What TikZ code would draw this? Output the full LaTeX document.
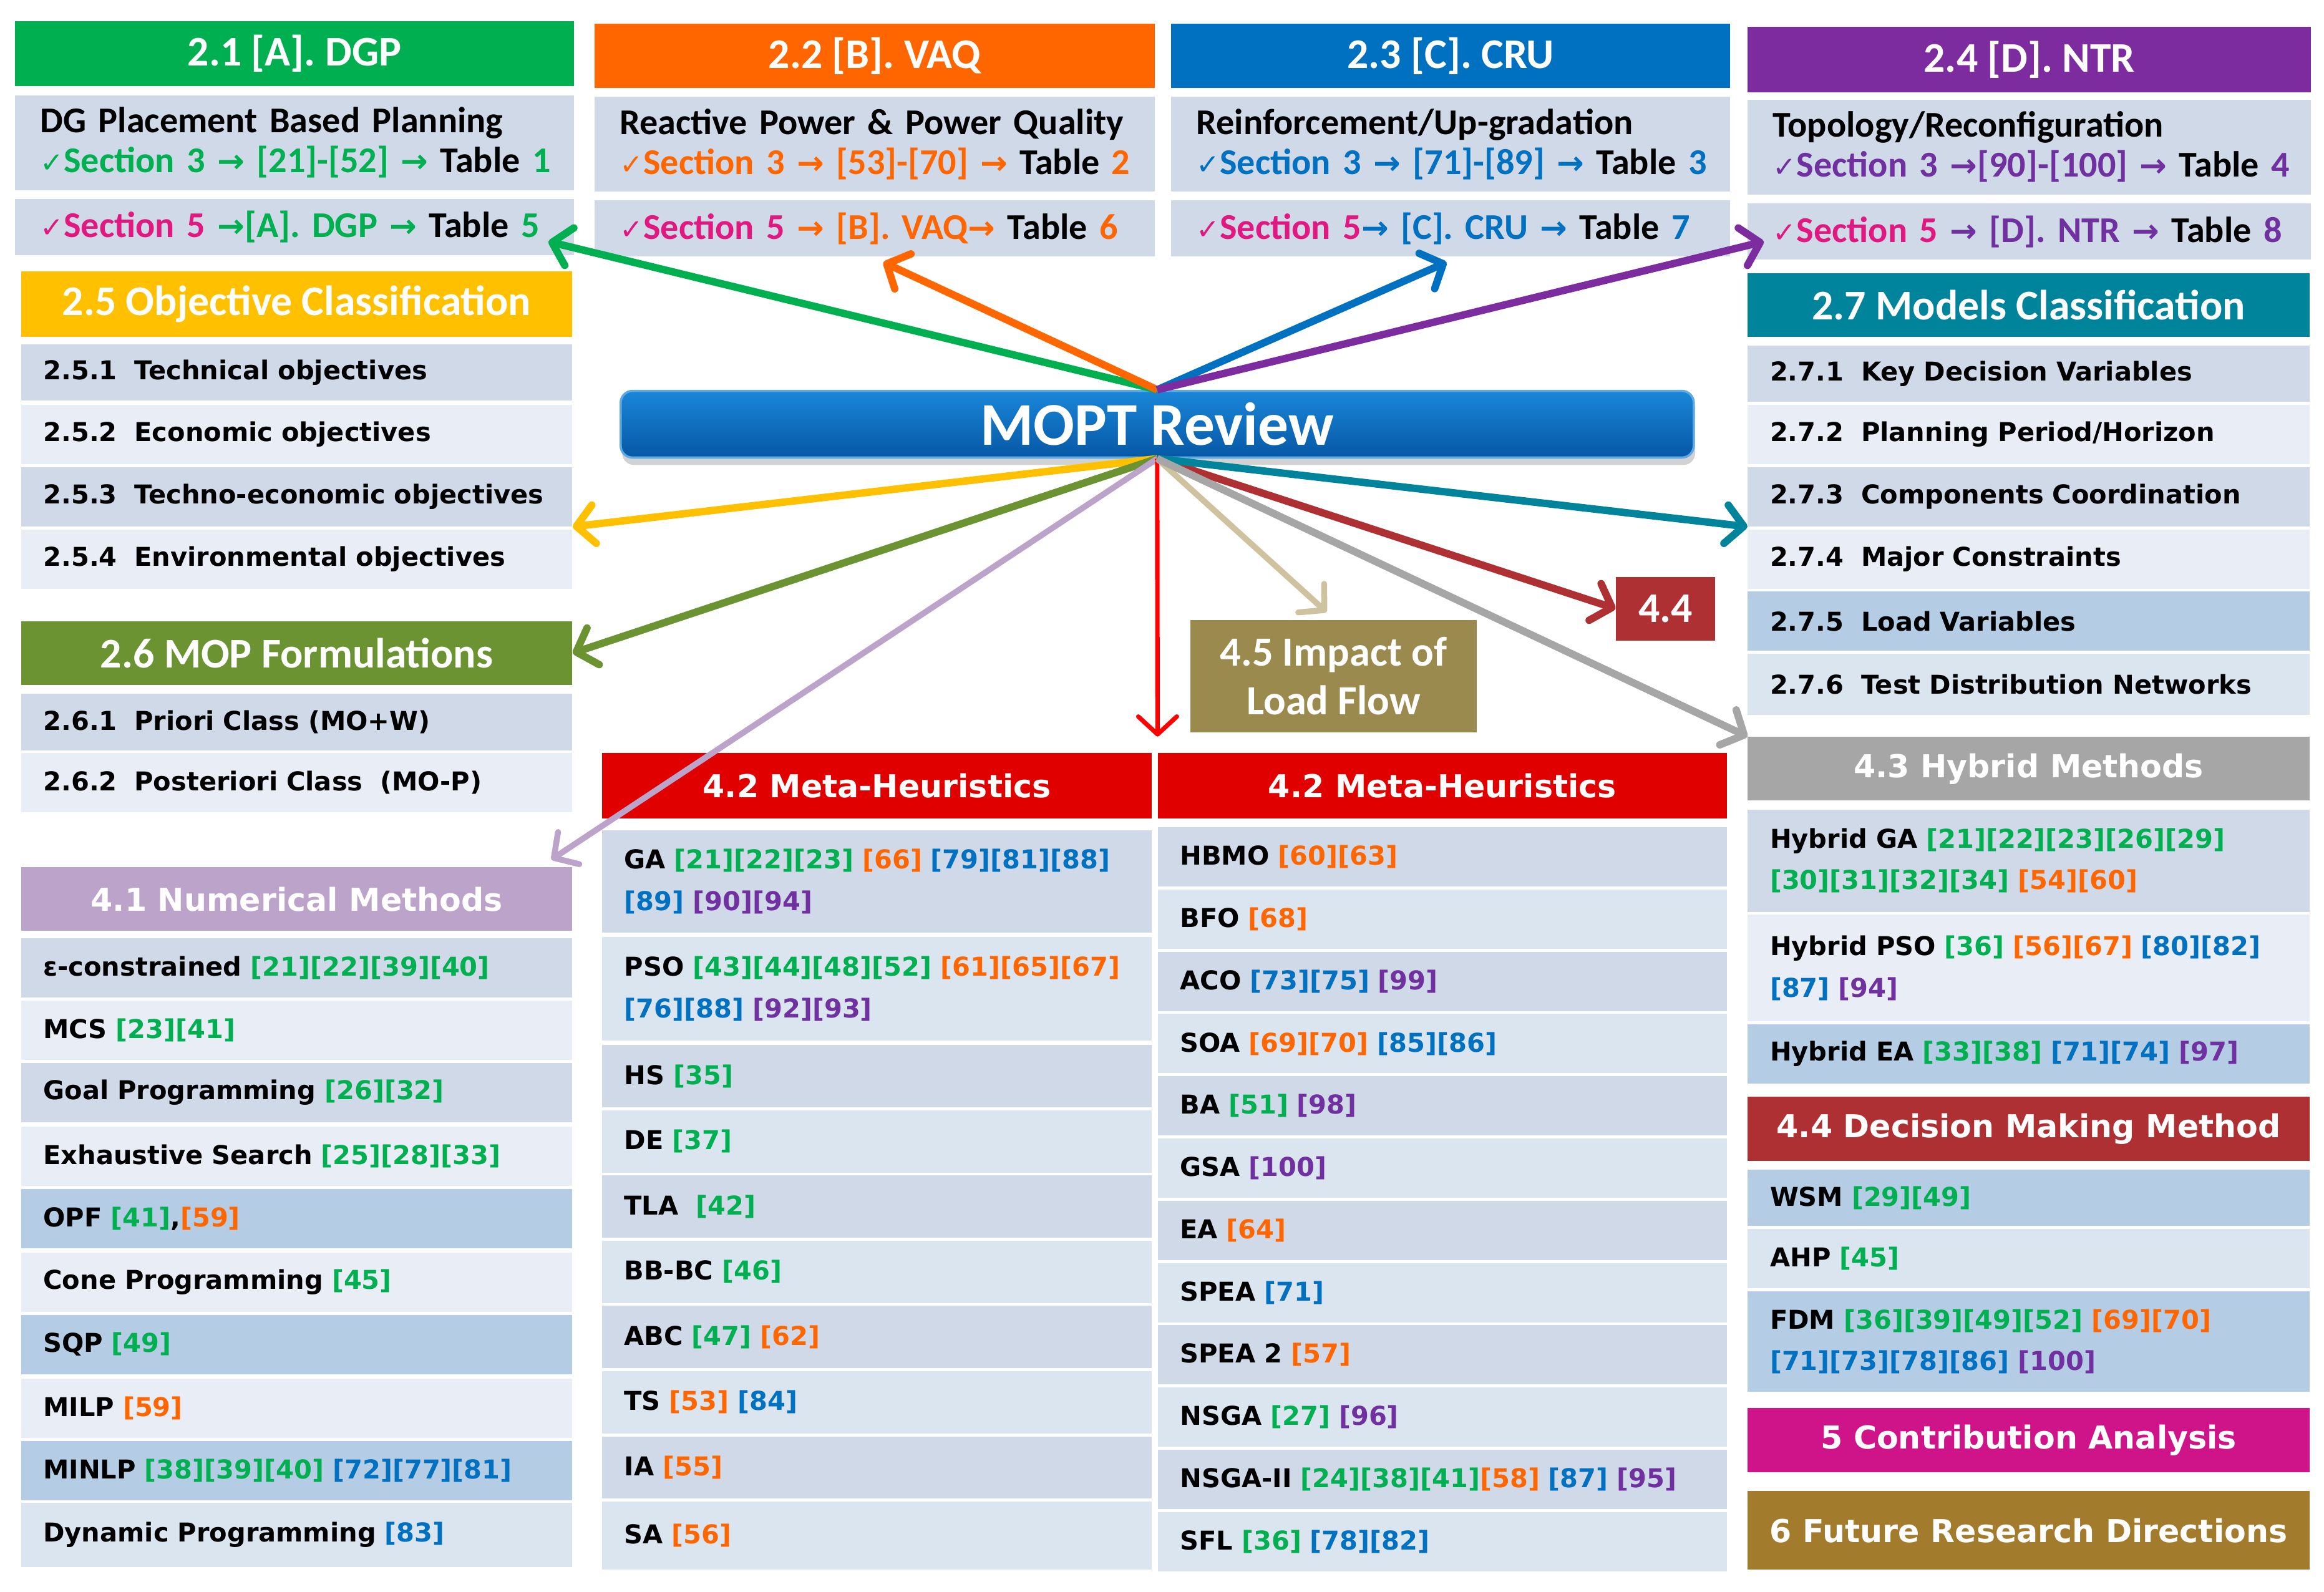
\documentclass[tikz,border=0pt]{standalone}
\usepackage{fontspec}
\setmainfont{Carlito}
\newfontfamily\vfont{DejaVu Sans}
\newfontfamily\symfont{DejaVu Sans}
\usetikzlibrary{arrows.meta,shadows}

\definecolor{dgpgreen}{HTML}{00B050}
\definecolor{vaqorange}{HTML}{FF6600}
\definecolor{crublue}{HTML}{0070C0}
\definecolor{ntrpurple}{HTML}{7030A0}
\definecolor{ntrhead}{HTML}{7D2CA0}
\definecolor{secmag}{HTML}{E0187F}
\definecolor{objyellow}{HTML}{FFC000}
\definecolor{mopgreen}{HTML}{6B9332}
\definecolor{modteal}{HTML}{00849C}
\definecolor{numlav}{HTML}{BCA3CA}
\definecolor{metared}{HTML}{E00000}
\definecolor{hybgray}{HTML}{A6A6A6}
\definecolor{decred}{HTML}{AE3033}
\definecolor{conmag}{HTML}{CF1489}
\definecolor{futgold}{HTML}{A27B2D}
\definecolor{impolive}{HTML}{9B8A4E}
\definecolor{tanline}{HTML}{CFC29E}
\definecolor{cdark}{HTML}{CFD9E8}
\definecolor{clight}{HTML}{E9EEF6}
\definecolor{cmid}{HTML}{DAE5F0}
\definecolor{csat}{HTML}{B4CCE4}
\definecolor{moptlight}{HTML}{1A86D8}
\definecolor{moptdark}{HTML}{0658A5}

\newcommand{\cgr}[1]{\textcolor{dgpgreen}{#1}}
\newcommand{\cor}[1]{\textcolor{vaqorange}{#1}}
\newcommand{\cbl}[1]{\textcolor{crublue}{#1}}
\newcommand{\cpu}[1]{\textcolor{ntrpurple}{#1}}
\newcommand{\cmg}[1]{\textcolor{secmag}{#1}}
\newcommand{\ck}{{\symfont\mdseries\fontsize{19}{19}\selectfont ✓}}
\newcommand{\rarr}{{\symfont\bfseries\fontsize{22}{22}\selectfont →}}

\tikzstyle{hdr}=[rectangle,anchor=north west,inner sep=0pt,text=white,font=\bfseries\fontsize{28.5}{30}\selectfont]
\tikzstyle{vhdr}=[hdr,font=\vfont\bfseries\fontsize{21.3}{23}\selectfont]
\tikzstyle{cell}=[rectangle,anchor=north west,inner xsep=15pt,inner ysep=0pt,align=left,font=\vfont\bfseries\fontsize{17.5}{28}\selectfont]
\tikzstyle{topcell}=[cell,inner xsep=17pt,font=\bfseries\fontsize{24.5}{27}\selectfont]
\tikzstyle{colA}=[cell,text width=342pt,minimum height=40pt]
\tikzstyle{colB}=[cell,text width=341pt,minimum height=42pt]
\tikzstyle{colC}=[cell,text width=354pt,minimum height=40pt]
\tikzstyle{colD}=[cell,text width=349pt,minimum height=40pt]
\tikzstyle{link}=[line width=5pt,-{Straight Barb[round,length=12pt,width=26pt]}]

\begin{document}
\begin{tikzpicture}[x=1pt,y=-1pt]
    \useasboundingbox (0,0) rectangle (1568,1074);
    \fill[white] (0,0) rectangle (1568,1074);

    % top row
    \node[hdr,fill=dgpgreen,minimum width=377pt,minimum height=44pt] (dgp) at (10,14) {2.1 [A]. DGP};
    \node[topcell,fill=cdark,text width=343pt,minimum height=64pt] (dgp1) at (10,64)
        {DG Placement Based Planning\\\mbox{\cgr{\ck Section 3 \rarr{} [21]-[52] \rarr{}} Table \cgr{1}}};
    \node[topcell,fill=cdark,text width=343pt,minimum height=38pt] (dgp2) at (10,134)
        {\mbox{\cmg{\ck Section 5} \cgr{\rarr{}[A]. DGP \rarr{}} Table \cgr{5}}};

    \node[hdr,fill=vaqorange,minimum width=378pt,minimum height=43pt] (vaq) at (401,16) {2.2 [B]. VAQ};
    \node[topcell,fill=cdark,text width=344pt,minimum height=64pt] (vaq1) at (401,65)
        {Reactive Power \& Power Quality\\\mbox{\cor{\ck Section 3 \rarr{} [53]-[70] \rarr{}} Table \cor{2}}};
    \node[topcell,fill=cdark,text width=344pt,minimum height=38pt] (vaq2) at (401,135)
        {\mbox{\cmg{\ck Section 5} \cor{\rarr{} [B]. VAQ\rarr{}} Table \cor{6}}};

    \node[hdr,fill=crublue,minimum width=377pt,minimum height=43pt] (cru) at (790,16) {2.3 [C]. CRU};
    \node[topcell,fill=cdark,text width=343pt,minimum height=64pt] (cru1) at (790,65)
        {Reinforcement/Up-gradation\\\mbox{\cbl{\ck Section 3 \rarr{} [71]-[89] \rarr{}} Table \cbl{3}}};
    \node[topcell,fill=cdark,text width=343pt,minimum height=38pt] (cru2) at (790,135)
        {\mbox{\cmg{\ck Section 5}\cbl{\rarr{} [C]. CRU \rarr{}} Table \cbl{7}}};

    \node[hdr,fill=ntrhead,minimum width=380pt,minimum height=44pt] (ntr) at (1179,18) {2.4 [D]. NTR};
    \node[topcell,fill=cdark,text width=346pt,minimum height=64pt] (ntr1) at (1179,67)
        {Topology/Reconfiguration\\\mbox{\cpu{\ck Section 3 \rarr{}[90]-[100] \rarr{}} Table \cpu{4}}};
    \node[topcell,fill=cdark,text width=346pt,minimum height=38pt] (ntr2) at (1179,137)
        {\mbox{\cmg{\ck Section 5} \cpu{\rarr{} [D]. NTR \rarr{}} Table \cpu{8}}};

    % left column
    \node[hdr,fill=objyellow,minimum width=372pt,minimum height=44pt] (obj) at (14,183) {2.5 Objective Classification};
    \node[colA,fill=cdark,minimum height=38pt] (obj1) at (14,232) {2.5.1~ Technical objectives};
    \node[colA,fill=clight] (obj2) at (14,273) {2.5.2~ Economic objectives};
    \node[colA,fill=cdark] (obj3) at (14,315) {2.5.3~ Techno-economic objectives};
    \node[colA,fill=clight] (obj4) at (14,357) {2.5.4~ Environmental objectives};

    \node[hdr,fill=mopgreen,minimum width=372pt,minimum height=43pt] (mop) at (14,419) {2.6 MOP Formulations};
    \node[colA,fill=cdark,minimum height=38pt] (mop1) at (14,468) {2.6.1~ Priori Class (MO+W)};
    \node[colA,fill=clight] (mop2) at (14,508) {2.6.2~ Posteriori Class~ (MO-P)};

    \node[vhdr,fill=numlav,minimum width=372pt,minimum height=43pt] (num) at (14,585) {4.1 Numerical Methods};
    \node[colA,fill=cdark] (num1) at (14,633) {ε-constrained \cgr{[21][22][39][40]}};
    \node[colA,fill=clight] (num2) at (14,675) {MCS \cgr{[23][41]}};
    \node[colA,fill=cdark] (num3) at (14,717) {Goal Programming \cgr{[26][32]}};
    \node[colA,fill=clight] (num4) at (14,760) {Exhaustive Search \cgr{[25][28][33]}};
    \node[colA,fill=csat] (num5) at (14,802) {OPF \cgr{[41]},\cor{[59]}};
    \node[colA,fill=clight] (num6) at (14,845) {Cone Programming \cgr{[45]}};
    \node[colA,fill=csat] (num7) at (14,887) {SQP \cgr{[49]}};
    \node[colA,fill=clight] (num8) at (14,930) {MILP \cor{[59]}};
    \node[colA,fill=csat] (num9) at (14,972) {MINLP \cgr{[38][39][40]} \cbl{[72][77][81]}};
    \node[colA,fill=cmid,minimum height=43pt] (num10) at (14,1014) {Dynamic Programming \cbl{[83]}};

    % meta-heuristics, first half
    \node[vhdr,fill=metared,minimum width=371pt,minimum height=44pt] (metaA) at (406,508) {4.2 Meta-Heuristics};
    \node[colB,fill=cdark,minimum height=69pt] (ga) at (406,560)
        {GA \cgr{[21][22][23]} \cor{[66]} \cbl{[79][81][88]}\\\cbl{[89]} \cpu{[90][94]}};
    \node[colB,fill=cmid,minimum height=70pt] (pso) at (406,632)
        {PSO \cgr{[43][44][48][52]} \cor{[61][65][67]}\\\cbl{[76][88]} \cpu{[92][93]}};
    \node[colB,fill=cdark] (hs) at (406,705) {HS \cgr{[35]}};
    \node[colB,fill=cmid] (de) at (406,749) {DE \cgr{[37]}};
    \node[colB,fill=cdark] (tla) at (406,793) {TLA~ \cgr{[42]}};
    \node[colB,fill=cmid] (bbbc) at (406,837) {BB-BC \cgr{[46]}};
    \node[colB,fill=cdark] (abc) at (406,881) {ABC \cgr{[47]} \cor{[62]}};
    \node[colB,fill=cmid] (ts) at (406,925) {TS \cor{[53]} \cbl{[84]}};
    \node[colB,fill=cdark] (ia) at (406,969) {IA \cor{[55]}};
    \node[colB,fill=cmid,minimum height=46pt] (sa) at (406,1013) {SA \cor{[56]}};

    % meta-heuristics, second half
    \node[vhdr,fill=metared,minimum width=384pt,minimum height=44pt] (metaB) at (781,508) {4.2 Meta-Heuristics};
    \node[colC,fill=cdark] (hbmo) at (781,558) {HBMO \cor{[60][63]}};
    \node[colC,fill=cmid] (bfo) at (781,600) {BFO \cor{[68]}};
    \node[colC,fill=cdark] (aco) at (781,642) {ACO \cbl{[73][75]} \cpu{[99]}};
    \node[colC,fill=cmid] (soa) at (781,684) {SOA \cor{[69][70]} \cbl{[85][86]}};
    \node[colC,fill=cdark] (ba) at (781,726) {BA \cgr{[51]} \cpu{[98]}};
    \node[colC,fill=cmid] (gsa) at (781,768) {GSA \cpu{[100]}};
    \node[colC,fill=cdark] (ea) at (781,810) {EA \cor{[64]}};
    \node[colC,fill=cmid] (spea) at (781,852) {SPEA \cbl{[71]}};
    \node[colC,fill=cdark] (speab) at (781,894) {SPEA 2 \cor{[57]}};
    \node[colC,fill=cmid] (nsga) at (781,936) {NSGA \cgr{[27]} \cpu{[96]}};
    \node[colC,fill=cdark] (nsgab) at (781,978) {NSGA-II \cgr{[24][38][41]}\cor{[58]} \cbl{[87]} \cpu{[95]}};
    \node[colC,fill=cmid] (sfl) at (781,1020) {SFL \cgr{[36]} \cbl{[78][82]}};

    % right column
    \node[hdr,fill=modteal,minimum width=379pt,minimum height=43pt] (mod) at (1179,184) {2.7 Models Classification};
    \node[colD,fill=cdark,minimum height=38pt] (mod1) at (1179,233) {2.7.1~ Key Decision Variables};
    \node[colD,fill=clight] (mod2) at (1179,273) {2.7.2~ Planning Period/Horizon};
    \node[colD,fill=cdark] (mod3) at (1179,315) {2.7.3~ Components Coordination};
    \node[colD,fill=clight] (mod4) at (1179,357) {2.7.4~ Major Constraints};
    \node[colD,fill=csat] (mod5) at (1179,399) {2.7.5~ Load Variables};
    \node[colD,fill=cmid,minimum height=41pt] (mod6) at (1179,441) {2.7.6~ Test Distribution Networks};

    \node[vhdr,fill=hybgray,minimum width=379pt,minimum height=43pt] (hyb) at (1179,497) {4.3 Hybrid Methods};
    \node[colD,fill=cdark,minimum height=69pt] (hyb1) at (1179,546)
        {Hybrid GA \cgr{[21][22][23][26][29]}\\\cgr{[30][31][32][34]} \cor{[54][60]}};
    \node[colD,fill=clight,minimum height=72pt] (hyb2) at (1179,617)
        {Hybrid PSO \cgr{[36]} \cor{[56][67]} \cbl{[80][82]}\\\cbl{[87]} \cpu{[94]}};
    \node[colD,fill=csat] (hyb3) at (1179,691) {Hybrid EA \cgr{[33][38]} \cbl{[71][74]} \cpu{[97]}};

    \node[vhdr,fill=decred,minimum width=379pt,minimum height=43pt] (dec) at (1179,740) {4.4 Decision Making Method};
    \node[colD,fill=csat,minimum height=38pt] (dec1) at (1179,789) {WSM \cgr{[29][49]}};
    \node[colD,fill=cmid] (dec2) at (1179,829) {AHP \cgr{[45]}};
    \node[colD,fill=csat,minimum height=68pt] (dec3) at (1179,871)
        {FDM \cgr{[36][39][49][52]} \cor{[69][70]}\\\cbl{[71][73][78][86]} \cpu{[100]}};

    \node[vhdr,fill=conmag,minimum width=379pt,minimum height=43pt] (con) at (1179,950) {5 Contribution Analysis};
    \node[vhdr,fill=futgold,minimum width=379pt,minimum height=53pt] (fut) at (1179,1006) {6 Future Research Directions};

    % centre
    \node[rectangle,anchor=north west,rounded corners=8pt,minimum width=724pt,minimum height=45pt,
        top color=moptlight,bottom color=moptdark,draw=moptlight!70!white,line width=1.5pt,
        drop shadow={shadow xshift=1pt,shadow yshift=-5pt,opacity=0.35},
        text=white,font=\bfseries\fontsize{41}{44}\selectfont] (mopt) at (418,263) {MOPT Review};
    \node[rectangle,anchor=north west,fill=impolive,minimum width=193pt,minimum height=76pt,
        text=white,align=center,font=\bfseries\fontsize{28}{33}\selectfont] (imp) at (803,418) {4.5 Impact of\\Load Flow};
    \node[rectangle,anchor=north west,fill=decred,minimum width=67pt,minimum height=43pt,
        text=white,font=\bfseries\fontsize{28.5}{30}\selectfont] (dsm) at (1090,389) {4.4};

    % arrow ends
    \coordinate (tdgp) at (370,163);
    \coordinate (tvaq) at (596,177);
    \coordinate (tcru) at (976,177);
    \coordinate (tntr) at (1190,163);
    \coordinate (tnum) at (372,580);
    \coordinate (tmeta) at (781,497);
    \coordinate (timp) at (895,413);

    % links
    \draw[link,dgpgreen] (mopt.north) -- (tdgp);
    \draw[link,vaqorange] (mopt.north) -- (tvaq);
    \draw[link,crublue] (mopt.north) -- (tcru);
    \draw[link,ntrhead] (mopt.north) -- (tntr);
    \draw[link,objyellow] (mopt.south) -- (obj3.south east);
    \draw[link,mopgreen] (mopt.south) -- (mop.east);
    \draw[link,numlav,line width=4pt] (mopt.south) -- (tnum);
    \draw[link,red,line width=3pt] (mopt.south) -- (tmeta);
    \draw[link,tanline,line width=4pt] (mopt.south) -- (timp);
    \draw[link,decred] (mopt.south) -- (dsm.west);
    \draw[link,modteal] (mopt.south) -- (mod3.south west);
    \draw[link,hybgray] (mopt.south) -- (hyb.north west);
\end{tikzpicture}
\end{document}
